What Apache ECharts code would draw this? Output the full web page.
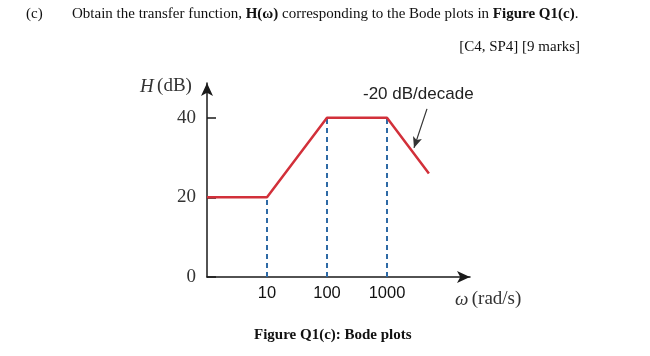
<!DOCTYPE html>
<html>
<head>
<meta charset="utf-8">
<script src="https://cdn.jsdelivr.net/npm/echarts@6/dist/echarts.min.js"></script>
<style>html,body{margin:0;padding:0;background:#fff;}#c{width:650px;height:356px;}</style>
</head>
<body>
<div id="c"></div>
<script>
// Bode magnitude asymptote (omega in rad/s, magnitude in dB)
const omega = [1, 10, 100, 1000, 5000];
const magDb = [20, 20, 40, 40, 26];
// corner frequencies with dashed drop lines
const corners = [10, 100, 1000];
const cornerDb = [20, 40, 40];
const xTickLabels = ['10', '100', '1000'];
const yTicks = [0, 20, 40];
// annotation arrow endpoints [omega, dB]
const noteFrom = [4640, 42.2];
const noteTo = [2820, 32.4];

const chart = echarts.init(document.getElementById('c'));
const serif = "'Liberation Serif', 'Times New Roman', serif";
const sans = "'Liberation Sans', Arial, sans-serif";

const dropLines = corners.map((w, i) => [
  { coord: [w, 0] },
  { coord: [w, cornerDb[i]] }
]);

chart.setOption({
  backgroundColor: '#ffffff',
  animation: false,
  grid: { left: 207, top: 83, width: 263, height: 194, containLabel: false },
  xAxis: {
    type: 'log',
    logBase: 10,
    min: 1,
    max: 24200,
    axisLine: { show: true, symbol: ['none', 'arrow'], symbolSize: [9, 13], lineStyle: { color: '#1a1a1a', width: 1.5 } },
    axisTick: { show: false },
    splitLine: { show: false },
    axisLabel: {
      margin: 8,
      fontFamily: sans,
      fontSize: 16.5,
      color: '#111',
      formatter: v => {
        const s = String(Math.round(v));
        return xTickLabels.indexOf(s) >= 0 ? s : '';
      }
    }
  },
  yAxis: {
    type: 'value',
    min: 0,
    max: 48.7,
    interval: 20,
    axisLine: { show: true, symbol: ['none', 'arrow'], symbolSize: [9, 13], lineStyle: { color: '#1a1a1a', width: 1.5 } },
    axisTick: { show: true, inside: true, length: 9, lineStyle: { color: '#1a1a1a', width: 1.5 } },
    splitLine: { show: false },
    axisLabel: {
      margin: 11,
      fontFamily: serif,
      fontSize: 19,
      color: '#333',
      showMaxLabel: false,
      formatter: v => (yTicks.indexOf(v) >= 0 ? String(v) : '')
    }
  },
  series: [
    {
      type: 'line',
      data: omega.map((w, i) => [w, magDb[i]]),
      showSymbol: false,
      lineStyle: { color: '#d2303a', width: 2.5 },
      z: 3,
      markLine: {
        silent: true,
        symbol: ['none', 'none'],
        label: { show: false },
        lineStyle: { color: '#2e6aa6', width: 2, type: [5, 4] },
        data: dropLines,
        z: 2
      }
    },
    {
      type: 'line',
      data: [],
      markLine: {
        silent: true,
        symbol: ['none', 'arrow'],
        symbolSize: [7, 11],
        label: { show: false },
        lineStyle: { color: '#333', width: 1.2, type: 'solid' },
        data: [[{ coord: noteFrom }, { coord: noteTo }]]
      }
    }
  ],
  graphic: [
    { type: 'text', left: 26, top: 7, style: { text: '(c)', font: "15px " + serif, fill: '#111' } },
    { type: 'text', left: 72, top: 7, style: {
        text: '{n|Obtain the transfer function, }{b|H(ω)}{n| corresponding to the Bode plots in }{b|Figure Q1(c)}{n|.}',
        rich: {
          n: { fontFamily: serif, fontSize: 15, fill: '#111' },
          b: { fontFamily: serif, fontSize: 15, fontWeight: 'bold', fill: '#111' }
        }
    } },
    { type: 'text', right: 70, top: 40, style: { text: '[C4, SP4] [9 marks]', font: "15px " + serif, fill: '#111' } },
    { type: 'text', left: 140, top: 77, style: {
        text: '{i|H} {n|(dB)}',
        rich: {
          i: { fontFamily: serif, fontSize: 19, fontStyle: 'italic', fill: '#333' },
          n: { fontFamily: serif, fontSize: 19, fill: '#333' }
        }
    } },
    { type: 'text', left: 455, top: 290, style: {
        text: '{i|ω} {n|(rad/s)}',
        rich: {
          i: { fontFamily: serif, fontSize: 19, fontStyle: 'italic', fill: '#333' },
          n: { fontFamily: serif, fontSize: 19, fill: '#333' }
        }
    } },
    { type: 'text', left: 363, top: 86, style: { text: '-20 dB/decade', font: "17px " + sans, fill: '#222' } },
    { type: 'text', left: 254, top: 328, style: { text: 'Figure Q1(c): Bode plots', font: "bold 15px " + serif, fill: '#111' } }
  ]
});
</script>
</body>
</html>
